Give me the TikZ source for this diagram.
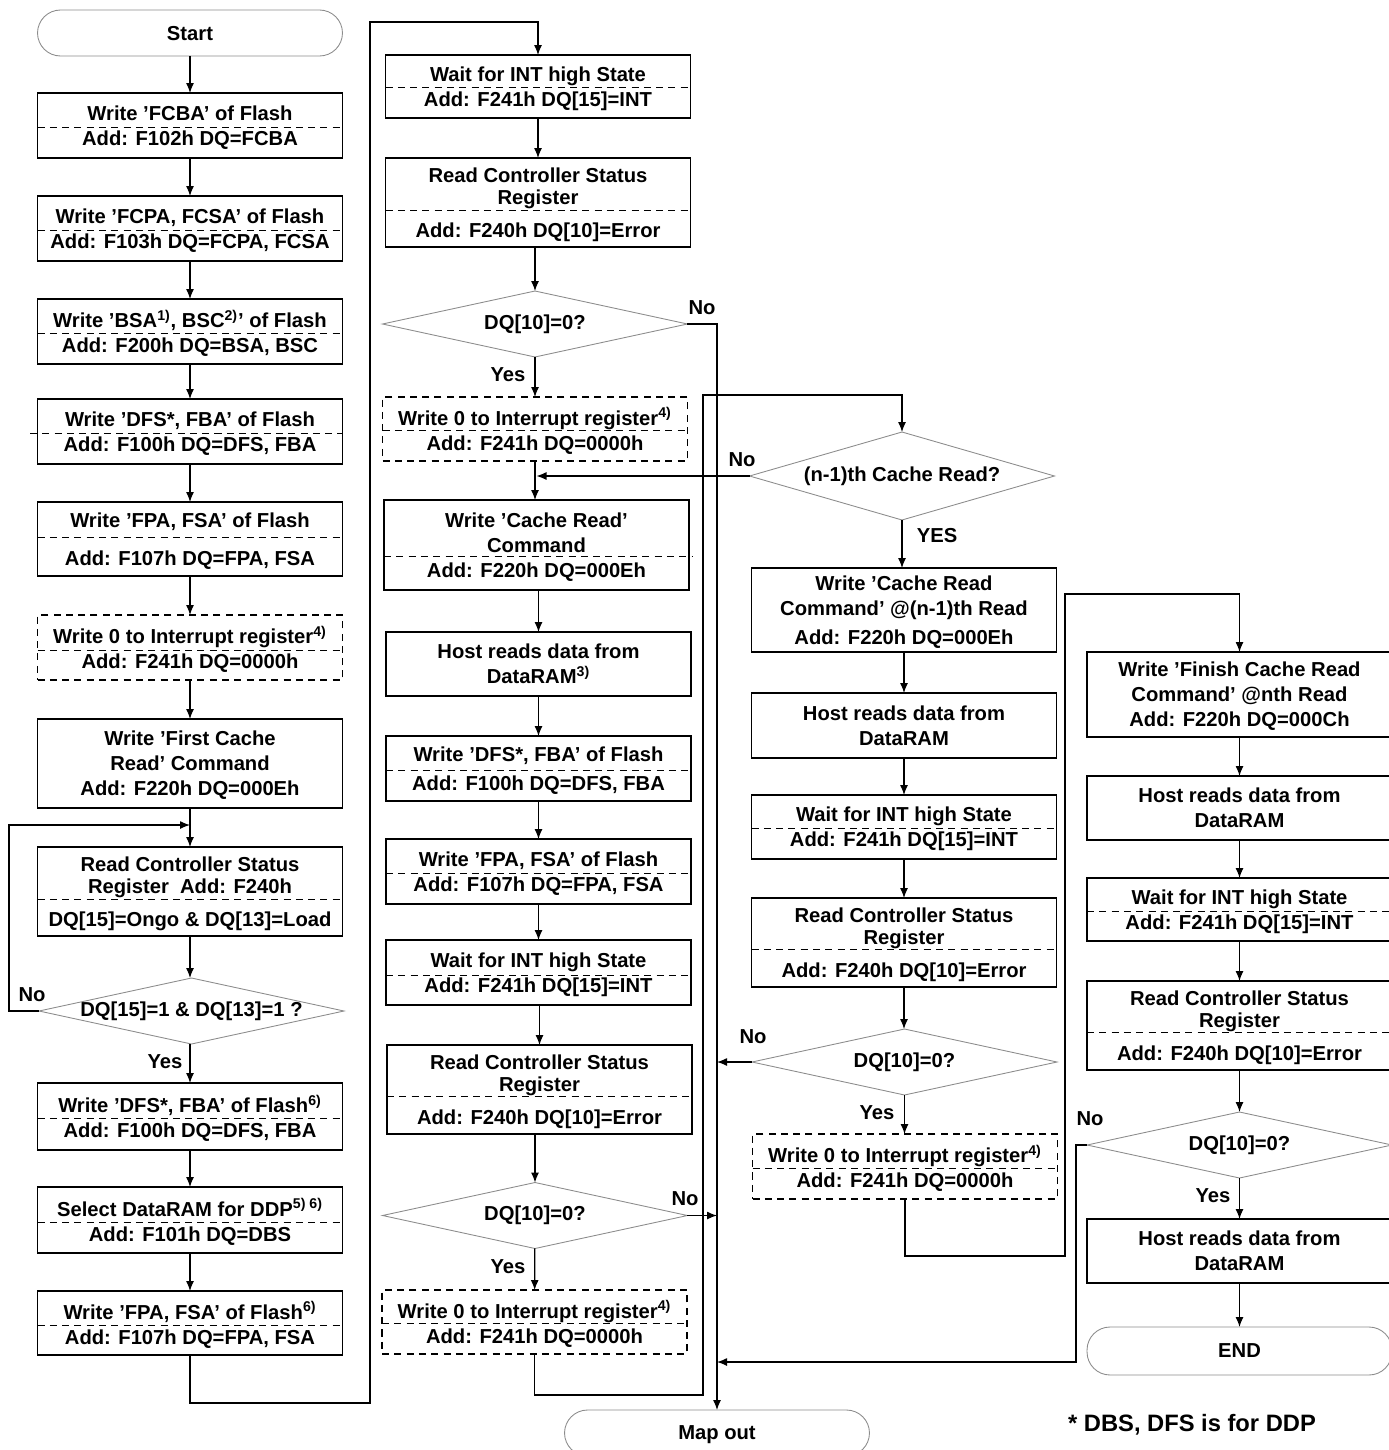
\documentclass[tikz,border=0pt]{standalone}
\usepackage{fontspec}
\setmainfont{Liberation Sans}
\usetikzlibrary{arrows.meta,shapes.geometric}

\tikzset{
  blk/.style={draw, line width=0.7pt, minimum width=6.1cm, align=center, inner sep=0pt, outer sep=0pt, text depth=0pt},
  dblk/.style={blk, dash pattern=on 4pt off 3pt},
  dec/.style={diamond, draw=black!45, line width=0.5pt, minimum width=6.1cm, minimum height=1.32cm, inner sep=0pt, outer sep=0pt},
  term/.style={draw=black!45, line width=0.5pt, rounded corners=0.46cm, minimum width=6.1cm, minimum height=0.92cm, outer sep=0pt, text depth=0pt},
  sep/.style={line width=0.5pt, dash pattern=on 4pt off 3pt},
  arr/.style={line width=0.7pt, -{Latex[length=2mm,width=1.6mm]}},
  thk/.style={line width=1.5pt},
}

\begin{document}
\begin{tikzpicture}[x=0.02cm,y=-0.02cm,
  every node/.style={font=\fontsize{11.5}{14.2}\selectfont\bfseries}]
\useasboundingbox (0,0) rectangle (1389,1450);

% first column
\node[term] (start) at (190,33) {Start};
\node[blk, minimum height=1.3cm] (b1) at (190,125.5) {Write ’FCBA’ of Flash\\Add: F102h DQ=FCBA};
\draw[sep] (b1.west |- 0,127) -- (b1.east |- 0,127);
\node[blk, minimum height=1.3cm] (b2) at (190,228.5) {Write ’FCPA, FCSA’ of Flash\\Add: F103h DQ=FCPA, FCSA};
\draw[sep] (b2.west |- 0,230) -- (b2.east |- 0,230);
\node[blk, minimum height=1.3cm] (b3) at (190,331.5) {Write ’BSA\textsuperscript{1)}, BSC\textsuperscript{2)}’ of Flash\\Add: F200h DQ=BSA, BSC};
\draw[sep] (b3.west |- 0,333) -- (b3.east |- 0,333);
\node[blk, minimum height=1.3cm] (b4) at (190,431.5) {Write ’DFS*, FBA’ of Flash\\Add: F100h DQ=DFS, FBA};
\draw[sep] (30,433) -- (b4.east |- 0,433);
\node[blk, minimum height=1.48cm] (b5) at (190,539) {Write ’FPA, FSA’ of Flash\\[7.3pt]Add: F107h DQ=FPA, FSA};
\draw[sep] (b5.west |- 0,537) -- (b5.east |- 0,537);
\node[dblk, minimum height=1.3cm] (b6) at (190,647.5) {Write 0 to Interrupt register\textsuperscript{4)}\\Add: F241h DQ=0000h};
\draw[sep] (b6.west |- 0,650) -- (b6.east |- 0,650);
\node[blk, minimum height=1.78cm] (b7) at (190,763.5) {Write ’First Cache\\Read’ Command\\Add: F220h DQ=000Eh};
\node[blk, minimum height=1.78cm] (b8) at (190,891.5) {Read Controller Status\\[-1.7pt]Register\ \ Add: F240h\\[4.5pt]DQ[15]=Ongo \& DQ[13]=Load};
\draw[sep] (b8.west |- 0,899) -- (b8.east |- 0,899);
\node[dec] (d1) at (191.5,1011) {};
\node (q1) at (d1) {DQ[15]=1 \& DQ[13]=1 ?};
\node (no1) at (32,995) {No};
\node (yes1) at (165,1062) {Yes};
\node[blk, minimum height=1.34cm] (b9) at (190,1116.5) {Write ’DFS*, FBA’ of Flash\textsuperscript{6)}\\Add: F100h DQ=DFS, FBA};
\draw[sep] (b9.west |- 0,1118) -- (b9.east |- 0,1118);
\node[blk, minimum height=1.32cm] (b10) at (190,1220) {Select DataRAM for DDP\textsuperscript{5) 6)}\\Add: F101h DQ=DBS};
\draw[sep] (b10.west |- 0,1222) -- (b10.east |- 0,1222);
\node[blk, minimum height=1.28cm] (b11) at (190,1323) {Write ’FPA, FSA’ of Flash\textsuperscript{6)}\\Add: F107h DQ=FPA, FSA};
\draw[sep] (b11.west |- 0,1325) -- (b11.east |- 0,1325);

\coordinate (j1) at (190,825);
\draw[arr] (start) -- (b1);
\draw[arr] (b1) -- (b2);
\draw[arr] (b2) -- (b3);
\draw[arr] (b3) -- (b4);
\draw[arr] (b4) -- (b5);
\draw[arr] (b5) -- (b6);
\draw[arr] (b6) -- (b7);
\draw[arr] (b7) -- (b8);
\draw[arr] (b8.south) -- (b8.south |- d1.north);
\draw[arr] (d1.west) -- ++(-30,0) |- (j1);
\draw[arr] (d1.south -| b9.north) -- (b9);
\draw[arr] (b9) -- (b10);
\draw[arr] (b10) -- (b11);

% second column
\node[blk, minimum height=1.26cm] (c1) at (538,86.5) {Wait for INT high State\\Add: F241h DQ[15]=INT};
\draw[sep] (c1.west |- 0,87) -- (c1.east |- 0,87);
\node[blk, minimum height=1.78cm] (c2) at (538,202.5) {Read Controller Status\\[-1.7pt]Register\\[4.5pt]Add: F240h DQ[10]=Error};
\draw[sep] (c2.west |- 0,210) -- (c2.east |- 0,210);
\node[dec] (d2) at (535,324) {};
\node (q2) at (d2) {DQ[10]=0?};
\node (no2) at (702,308) {No};
\node (yes2) at (508,375) {Yes};
\node[dblk, minimum height=1.28cm] (c3) at (535,429) {Write 0 to Interrupt register\textsuperscript{4)}\\Add: F241h DQ=0000h};
\draw[sep] (c3.west |- 0,430) -- (c3.east |- 0,430);
\node[blk, minimum height=1.8cm] (c4) at (536.5,545) {Write ’Cache Read’\\Command\\Add: F220h DQ=000Eh};
\draw[sep] (c4.west |- 0,556) -- (692,556);
\node[blk, minimum height=1.28cm] (c5) at (538.5,664) {Host reads data from\\DataRAM\textsuperscript{3)}};
\node[blk, minimum height=1.3cm] (c6) at (538.5,768.5) {Write ’DFS*, FBA’ of Flash\\[2.2pt]Add: F100h DQ=DFS, FBA};
\draw[sep] (c6.west |- 0,770) -- (c6.east |- 0,770);
\node[blk, minimum height=1.3cm] (c7) at (538.5,871.5) {Write ’FPA, FSA’ of Flash\\Add: F107h DQ=FPA, FSA};
\draw[sep] (c7.west |- 0,873) -- (c7.east |- 0,873);
\node[blk, minimum height=1.3cm] (c8) at (538.5,972.5) {Wait for INT high State\\Add: F241h DQ[15]=INT};
\draw[sep] (c8.west |- 0,975) -- (c8.east |- 0,975);
\node[blk, minimum height=1.78cm] (c9) at (539.5,1089.5) {Read Controller Status\\[-1.7pt]Register\\[4.5pt]Add: F240h DQ[10]=Error};
\draw[sep] (c9.west |- 0,1096) -- (c9.east |- 0,1096);
\node[dec] (d3) at (535,1215.5) {};
\node (q3) at (d3) {DQ[10]=0?};
\node (no3) at (685,1199) {No};
\node (yes3) at (508,1267) {Yes};
\node[dblk, minimum height=1.28cm] (c10) at (534.5,1322) {Write 0 to Interrupt register\textsuperscript{4)}\\Add: F241h DQ=0000h};
\draw[sep] (c10.west |- 0,1323) -- (c10.east |- 0,1323);
\node[term] (mapout) at (717,1433) {Map out};

\draw[thk, arr] (b11.south) -- (b11.south |- 0,1403) -- (370,1403) -- (370,22) -| (c1.north);
\draw[arr] (c1.south -| c2.north) -- (c2);
\draw[arr] (c2.south -| d2.north) -- (d2);
\draw[arr] (d2) -- (c3);
\draw[arr] (c3.south) -- (c3.south |- c4.north);
\draw[arr] (c4.south -| c5.north) -- (c5);
\draw[arr] (c5) -- (c6);
\draw[arr] (c6) -- (c7);
\draw[arr] (c7) -- (c8);
\draw[arr] (c8.south -| c9.north) -- (c9);
\draw[arr] (c9.south -| d3.north) -- (d3);
\draw[arr] (d3) -- (c10);
\draw[arr] (d2.east) -| (mapout.north);
\draw[arr] (d3.east) -- (d3.east -| mapout.north);

% third column
\node[dec, minimum height=1.76cm] (d4) at (902,476) {};
\node (q4) at (d4) {(n-1)th Cache Read?};
\node (no4) at (742,460) {No};
\node (yes4) at (937,536) {YES};
\node[blk, minimum height=1.68cm] (e1) at (904,610) {Write ’Cache Read\\Command’ @(n-1)th Read\\[2pt]Add: F220h DQ=000Eh};
\node[blk, minimum height=1.3cm] (e2) at (904,725.5) {Host reads data from\\DataRAM};
\node[blk, minimum height=1.28cm] (e3) at (904,827) {Wait for INT high State\\Add: F241h DQ[15]=INT};
\draw[sep] (e3.west |- 0,828) -- (e3.east |- 0,828);
\node[blk, minimum height=1.78cm] (e4) at (904,942.5) {Read Controller Status\\[-1.7pt]Register\\[4.5pt]Add: F240h DQ[10]=Error};
\draw[sep] (e4.west |- 0,949) -- (e4.east |- 0,949);
\node[dec] (d5) at (904.5,1062) {};
\node (q5) at (d5) {DQ[10]=0?};
\node (no5) at (753,1037) {No};
\node (yes5) at (877,1113) {Yes};
\node[dblk, minimum height=1.3cm] (e5) at (905,1166.5) {Write 0 to Interrupt register\textsuperscript{4)}\\Add: F241h DQ=0000h};
\draw[sep] (e5.west |- 0,1168) -- (e5.east |- 0,1168);

\draw[arr] (c10.south) -- (c10.south |- 0,1395) -- (703,1395) -- (703,395) -| (d4.north);
\draw[arr] (d4.west) -- (c4.north |- d4.west);
\draw[arr] (d4.south) -- (d4.south |- e1.north);
\draw[arr] (e1.south) -- (e2.north);
\draw[arr] (e2) -- (e3);
\draw[arr] (e3) -- (e4);
\draw[arr] (e4.south) -- (e4.south |- d5.north);
\draw[arr] (d5.south) -- (d5.south |- e5.north);
\draw[arr] (d5.west) -- (d5.west -| mapout.north);

% fourth column
\node[blk, minimum height=1.7cm] (f1) at (1239.5,694.5) {Write ’Finish Cache Read\\Command’ @nth Read\\Add: F220h DQ=000Ch};
\node[blk, minimum height=1.28cm] (f2) at (1239.5,808) {Host reads data from\\DataRAM};
\node[blk, minimum height=1.26cm] (f3) at (1239.5,909.5) {Wait for INT high State\\Add: F241h DQ[15]=INT};
\draw[sep] (f3.west |- 0,911) -- (f3.east |- 0,911);
\node[blk, minimum height=1.78cm] (f4) at (1239.5,1025.5) {Read Controller Status\\[-1.7pt]Register\\[4.5pt]Add: F240h DQ[10]=Error};
\draw[sep] (f4.west |- 0,1032) -- (f4.east |- 0,1032);
\node[dec] (d6) at (1239.5,1145) {};
\node (q6) at (d6) {DQ[10]=0?};
\node (no6) at (1090,1119) {No};
\node (yes6) at (1213,1196) {Yes};
\node[blk, minimum height=1.28cm] (f5) at (1239.5,1251) {Host reads data from\\DataRAM};
\node[term, minimum height=0.96cm] (finish) at (1239.5,1351) {END};
\node[font=\fontsize{13.5}{16}\selectfont\bfseries] (note) at (1192,1425) {* DBS, DFS is for DDP};

\draw[thk, arr] (e5.south) -- (e5.south |- 0,1256) -- (1065,1256) -- (1065,594) -| (f1.north);
\draw[arr] (f1) -- (f2);
\draw[arr] (f2) -- (f3);
\draw[arr] (f3) -- (f4);
\draw[arr] (f4) -- (d6);
\draw[arr] (d6) -- (f5);
\draw[arr] (f5) -- (finish);
\draw[thk, arr] (d6.west) -- (1076,1145) -- (1076,1362) -- (mapout.north |- 0,1362);
\end{tikzpicture}
\end{document}
